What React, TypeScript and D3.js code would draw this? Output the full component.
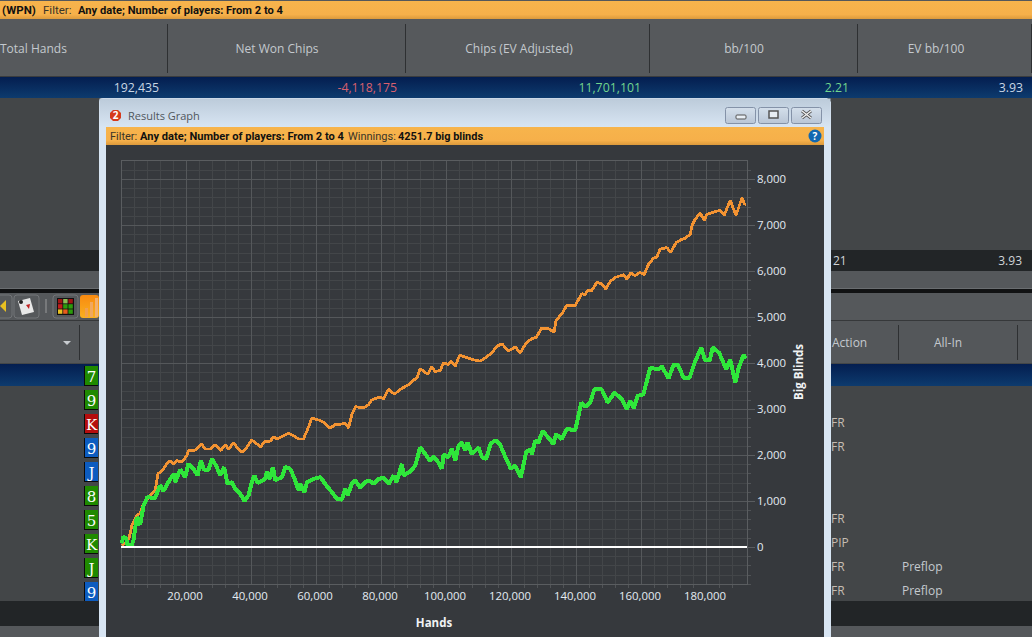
import * as React from "react";
import * as d3 from "d3";

// hands played, big blinds won
const allInHands = [300, 900, 1750, 2150, 3400, 4000, 5000, 6050, 7100, 8300, 10500, 12200, 13200, 15300, 16500, 16800, 18400, 19900, 20900, 22500, 23700, 24700, 25700, 27100, 28100, 29400, 30700, 31900, 32900, 34300, 35300, 36800, 38200, 39400, 40400, 41200, 42200, 44500, 45000, 45900, 46900, 47600, 49700, 50700, 52200, 53600, 54800, 55300, 56600, 57400, 59400, 61500, 63300, 65000, 66600, 68100, 69200, 69900, 71200, 72200, 73800, 75300, 76400, 77900, 79400, 81000, 82500, 84100, 84900, 86600, 87100, 89100, 90700, 92200, 93800, 95300, 96300, 97800, 98900, 99400, 100900, 101900, 103000, 104000, 105000, 106100, 106800, 108100, 110200, 111200, 112500, 113900, 115300, 116800, 118900, 120100, 121400, 123200, 124800, 126100, 126600, 127600, 128600, 129900, 131700, 133200, 134000, 135800, 137300, 139900, 140900, 141800, 143000, 144500, 145800, 148100, 149900, 152000, 154300, 155800, 156800, 157900, 159100, 160900, 163000, 165600, 166600, 168600, 170200, 171400, 173300, 175100, 176800, 178700, 179900, 181300, 182200, 184200, 186400, 187600, 189200, 190200, 191700, 192435];
const allInWon = [80, 220, 190, 40, 30, 150, 650, 480, 900, 1090, 1050, 1340, 1215, 1480, 1590, 1410, 1685, 1520, 1805, 1700, 1555, 1880, 1680, 1680, 1915, 1770, 1555, 1735, 1375, 1410, 1265, 1160, 995, 1125, 1410, 1555, 1390, 1480, 1630, 1480, 1735, 1450, 1520, 1735, 1700, 1480, 1230, 1375, 1195, 1410, 1480, 1520, 1340, 1195, 1050, 1030, 1265, 1125, 1375, 1450, 1290, 1410, 1450, 1375, 1480, 1505, 1375, 1555, 1410, 1805, 1555, 1640, 1770, 2165, 2020, 1865, 1965, 1840, 1700, 2010, 1950, 2130, 1880, 2200, 2275, 2095, 2275, 2020, 2165, 1950, 1915, 2240, 2325, 2225, 1880, 1700, 1770, 1520, 2060, 2130, 2020, 2310, 2270, 2525, 2370, 2240, 2455, 2345, 2565, 2540, 2850, 3140, 3045, 3140, 3425, 3425, 3140, 3355, 3210, 2995, 3175, 3015, 3285, 3320, 3895, 3860, 3930, 3665, 3965, 3965, 3680, 3680, 4040, 4325, 4055, 4055, 4340, 4220, 3860, 4075, 3570, 3895, 4170, 4100];

const evHands = [400, 1950, 2650, 3500, 5000, 6050, 7100, 8600, 10700, 11500, 12700, 14300, 15300, 16300, 17300, 18900, 20400, 20900, 22500, 23500, 25000, 26000, 27600, 29100, 30900, 32200, 33200, 34800, 36300, 37500, 38900, 40400, 42000, 43000, 44500, 46100, 47100, 48100, 50200, 51700, 53200, 54800, 56300, 57400, 58900, 61000, 62500, 64500, 66100, 67600, 69200, 70200, 71200, 72300, 74800, 76300, 77300, 79900, 80900, 82500, 84300, 86100, 88600, 90200, 91200, 92200, 94500, 95800, 96800, 98400, 99400, 100900, 101700, 103000, 104400, 106600, 109200, 110700, 112300, 114300, 115800, 117400, 119400, 121500, 123000, 124800, 126550, 127900, 129600, 131700, 133400, 134000, 135800, 137300, 139900, 141900, 143000, 143700, 145000, 146600, 148100, 149300, 150700, 152200, 154800, 155800, 157000, 158400, 159900, 161100, 162500, 164000, 165000, 166000, 168100, 169300, 171000, 172700, 173700, 175300, 175800, 176800, 178400, 179600, 180400, 182500, 184500, 185800, 187600, 189400, 191200, 192000, 192435];
const evWon = [40, 115, 190, 475, 690, 725, 940, 1080, 1225, 1590, 1650, 1810, 1880, 1810, 1880, 1845, 1990, 2095, 2095, 2130, 2240, 2130, 2130, 2220, 2095, 2225, 2130, 2260, 2130, 2060, 2170, 2325, 2240, 2170, 2300, 2300, 2400, 2350, 2420, 2470, 2420, 2350, 2350, 2530, 2800, 2760, 2710, 2585, 2660, 2670, 2685, 2585, 2890, 3050, 3020, 3095, 3195, 3265, 3215, 3430, 3320, 3430, 3525, 3630, 3670, 3880, 3755, 3915, 3815, 3840, 4005, 3970, 4040, 3935, 4170, 4115, 4060, 4040, 4115, 4220, 4365, 4415, 4260, 4350, 4220, 4435, 4530, 4555, 4760, 4745, 4675, 4925, 5070, 5250, 5250, 5505, 5490, 5575, 5575, 5755, 5720, 5610, 5775, 5860, 5920, 5825, 5955, 5900, 5970, 5920, 6150, 6280, 6295, 6475, 6510, 6405, 6620, 6690, 6705, 6800, 6980, 7125, 7255, 7100, 7230, 7280, 7320, 7215, 7535, 7210, 7590, 7460, 7450];

const handTicks = [20000, 40000, 60000, 80000, 100000, 120000, 140000, 160000, 180000];
const handMinorTicks = d3.range(4000, 192000, 4000).filter(v => v % 20000 !== 0);
const blindTicks = [0, 1000, 2000, 3000, 4000, 5000, 6000, 7000, 8000];
const blindMinorTicks = d3.range(-800, 8400, 200).filter(v => v % 1000 !== 0);

const cardRanks = ["7", "9", "K", "9", "J", "8", "5", "K", "J", "9"];
const cardSuits = ["g", "g", "r", "b", "b", "g", "g", "g", "g", "b"];
const actionRows = ["", "", "FR", "FR", "", "", "FR", "PIP", "FR", "FR"];
const allInRows = ["", "", "", "", "", "", "", "", "Preflop", "Preflop"];

const suitFill: Record<string, string> = { g: "#1f8a00", r: "#b50d0d", b: "#0d5cc0" };
const uiFont = "'Open Sans', 'Noto Sans', sans-serif";
const barFont = "Roboto, 'Open Sans', sans-serif";

const plot = { left: 121, right: 747, top: 160, bottom: 584 };

export default function App() {
  const chartRef = React.useRef<SVGGElement>(null);

  const x = d3.scaleLinear().domain([0, 20000]).range([120.5, 185.5]);
  const y = d3.scaleLinear().domain([0, 1000]).range([547, 501]);
  const rowY = d3.scaleLinear().domain([0, 1]).range([376, 400]);

  React.useEffect(() => {
    const g = d3.select(chartRef.current);
    g.selectAll("*").remove();
    const w = plot.right - plot.left;
    const h = plot.bottom - plot.top;

    const styleGrid = (sel: any, color: string) => {
      sel.select(".domain").remove();
      sel.selectAll("line").attr("stroke", color).attr("shape-rendering", "crispEdges");
      sel.selectAll("text").remove();
    };

    // minor grid
    g.append("g")
      .attr("transform", `translate(0,${plot.bottom})`)
      .call(d3.axisBottom(x).tickValues(handMinorTicks).tickSizeInner(-h).tickSizeOuter(0))
      .call(styleGrid, "#434649");
    g.append("g")
      .attr("transform", `translate(${plot.left},0)`)
      .call(d3.axisLeft(y).tickValues(blindMinorTicks).tickSizeInner(-w).tickSizeOuter(0))
      .call(styleGrid, "#434649");

    // minor tick marks outside the frame
    g.append("g")
      .attr("transform", `translate(0,${plot.bottom})`)
      .call(d3.axisBottom(x).tickValues(handMinorTicks).tickSize(4))
      .call(styleGrid, "#505356");
    g.append("g")
      .attr("transform", `translate(${plot.right},0)`)
      .call(d3.axisRight(y).tickValues(blindMinorTicks).tickSize(4))
      .call(styleGrid, "#505356");

    // major grid
    g.append("g")
      .attr("transform", `translate(0,${plot.bottom})`)
      .call(d3.axisBottom(x).tickValues(handTicks).tickSizeInner(-h).tickSizeOuter(0))
      .call(styleGrid, "#55585b");
    g.append("g")
      .attr("transform", `translate(${plot.left},0)`)
      .call(d3.axisLeft(y).tickValues(blindTicks).tickSizeInner(-w).tickSizeOuter(0))
      .call(styleGrid, "#55585b");

    g.append("rect")
      .attr("x", plot.left + 0.5).attr("y", plot.top + 0.5)
      .attr("width", w).attr("height", h)
      .attr("fill", "none").attr("stroke", "#5a5d60").attr("shape-rendering", "crispEdges");

    // tick labels
    const yAxis = g.append("g")
      .attr("transform", `translate(${plot.right},0)`)
      .call(d3.axisRight(y).tickValues(blindTicks).tickSize(8).tickPadding(2).tickFormat(d3.format(",") as any));
    yAxis.select(".domain").remove();
    yAxis.selectAll("line").attr("stroke", "#5a5d60").attr("shape-rendering", "crispEdges");
    yAxis.selectAll("text").attr("fill", "#e4ebf2").style("font", `11.4px ${uiFont}`);

    const xAxis = g.append("g")
      .attr("transform", `translate(-1,${plot.bottom})`)
      .call(d3.axisBottom(x).tickValues(handTicks).tickSize(0).tickPadding(8).tickFormat(d3.format(",") as any));
    xAxis.select(".domain").remove();
    xAxis.selectAll("text").attr("fill", "#e4ebf2").style("font", `11.4px ${uiFont}`);

    const line = d3.line<number>().x(d => x(d)).curve(d3.curveLinear);

    g.append("path")
      .attr("d", line.y((_, i) => y(evWon[i]))(evHands))
      .attr("fill", "none").attr("stroke", "#f39332").attr("stroke-width", 2.8)
      .attr("stroke-linejoin", "bevel").attr("shape-rendering", "crispEdges");
    g.append("path")
      .attr("d", line.y((_, i) => y(allInWon[i]))(allInHands))
      .attr("fill", "none").attr("stroke", "#2fe63a").attr("stroke-width", 4)
      .attr("stroke-linejoin", "bevel").attr("shape-rendering", "crispEdges");

    // zero line
    g.append("line")
      .attr("x1", plot.left).attr("x2", plot.right)
      .attr("y1", y(0)).attr("y2", y(0))
      .attr("stroke", "#ffffff").attr("stroke-width", 2);
  }, []);

  const hdr = { fontFamily: uiFont, fontSize: 12, fill: "#c4c9ce" };

  return (
    <svg width={1032} height={637} style={{ position: "absolute", left: 0, top: 0 }}>
      <defs>
        <linearGradient id="bar" x1="0" y1="0" x2="0" y2="1">
          <stop offset="0" stopColor="#f7b44c" />
          <stop offset="0.75" stopColor="#f6b04a" />
          <stop offset="1" stopColor="#dc9a3c" />
        </linearGradient>
        <linearGradient id="sel" x1="0" y1="0" x2="0" y2="1">
          <stop offset="0" stopColor="#041e50" />
          <stop offset="1" stopColor="#0d3b6e" />
        </linearGradient>
        <linearGradient id="title" x1="0" y1="0" x2="0" y2="1">
          <stop offset="0" stopColor="#bccbda" />
          <stop offset="1" stopColor="#d9e6f4" />
        </linearGradient>
        <linearGradient id="btn" x1="0" y1="0" x2="0" y2="1">
          <stop offset="0" stopColor="#d4dfeb" />
          <stop offset="1" stopColor="#b9c6d6" />
        </linearGradient>
        <linearGradient id="hot" x1="0" y1="0" x2="0" y2="1">
          <stop offset="0" stopColor="#f98a10" />
          <stop offset="1" stopColor="#f9b020" />
        </linearGradient>
      </defs>

      {/* application behind the graph window */}
      <rect width={1032} height={637} fill="#434648" />
      <rect width={1032} height={2} fill="#55585b" />
      <rect y={1} width={1032} height={18} fill="url(#bar)" />
      <text x={2} y={14} fontFamily={barFont} fontSize={11.5} fontWeight={700} fill="#111">(WPN)</text>
      <text x={43} y={14} fontFamily={barFont} fontSize={11.5} fill="#3a3428">Filter:</text>
      <text x={78} y={14} fontFamily={barFont} fontSize={11.5} fontWeight={700} fill="#111" textLength={205} lengthAdjust="spacingAndGlyphs">Any date; Number of players: From 2 to 4</text>

      <rect y={19} width={1032} height={57} fill="#56595c" />
      <rect y={76} width={1032} height={1} fill="#3a3c3e" />
      {[167, 405, 649, 857, 1031].map(v => (
        <rect key={v} x={v} y={24} width={1} height={49} fill="#2e3032" />
      ))}
      <text x={0} y={53} {...hdr}>Total Hands</text>
      <text x={277} y={53} textAnchor="middle" {...hdr}>Net Won Chips</text>
      <text x={519} y={53} textAnchor="middle" {...hdr}>Chips (EV Adjusted)</text>
      <text x={744} y={53} textAnchor="middle" {...hdr}>bb/100</text>
      <text x={936} y={53} textAnchor="middle" {...hdr}>EV bb/100</text>

      <rect y={77} width={1032} height={21} fill="url(#sel)" />
      <g fontFamily={uiFont} fontSize={12.3} textAnchor="end">
        <text x={159} y={92} fill="#c9d6e4">192,435</text>
        <text x={397} y={92} fill="#d9606e">-4,118,175</text>
        <text x={641} y={92} fill="#72d68e">11,701,101</text>
        <text x={849} y={92} fill="#72d68e">2.21</text>
        <text x={1023} y={92} fill="#c9d6e4">3.93</text>
      </g>

      <rect y={250} width={1032} height={21} fill="#222527" />
      <text x={833} y={265} {...hdr} fill="#d0d4d8">21</text>
      <text x={1022} y={265} textAnchor="end" {...hdr} fill="#d0d4d8">3.93</text>
      <rect y={271} width={1032} height={17} fill="#55585b" />
      <rect y={288} width={1032} height={1} fill="#6a6d70" />
      <rect y={289} width={1032} height={4} fill="#111213" />
      <rect y={293} width={1032} height={27} fill="#55585b" />
      <rect y={320} width={1032} height={1} fill="#36383a" />
      <rect y={321} width={1032} height={42} fill="#54575a" />

      {/* toolbar */}
      <rect x={-4} y={295} width={16} height={23} rx={3} fill="#55585b" stroke="#727578" />
      <path d="M0,306 L6,300 L6,312 Z" fill="#e8c020" />
      <rect x={14} y={295} width={25} height={23} rx={3} fill="#55585b" stroke="#727578" />
      <path d="M18,301 L30,298 L34,312 L22,315 Z" fill="#e8e8e8" />
      <path d="M26,305 L30,304 L29,309 Z" fill="#c02020" />
      <circle cx={21} cy={302} r={2} fill="#222" />
      <rect x={45} y={299} width={2} height={14} fill="#77797b" />
      <rect x={53} y={295} width={25} height={23} rx={3} fill="#55585b" stroke="#727578" />
      <rect x={57} y={298} width={17} height={17} fill="#111" />
      {["#a01414", "#8cbc54", "#a01414", "#c01c1c", "#2c9c0c", "#2c9c0c", "#e8c020", "#e85c1c", "#2c9c0c"].map((c, i) => (
        <rect key={i} x={58 + (i % 3) * 5.2} y={299 + Math.floor(i / 3) * 5.2} width={4.4} height={4.4} fill={c} />
      ))}
      <rect x={80} y={295} width={19} height={23} rx={3} fill="url(#hot)" />
      <rect x={85} y={308} width={3} height={9} fill="#f0a050" />
      <rect x={90} y={302} width={3} height={15} fill="#f0a860" />
      <rect x={95} y={298} width={3} height={19} fill="#f0b070" />

      {/* hand list */}
      <rect x={79} y={325} width={1} height={35} fill="#2e3032" />
      <path d="M63,341 L71,341 L67,345 Z" fill="#c8ccd0" />
      <text x={832} y={347} {...hdr}>Action</text>
      <text x={948} y={347} textAnchor="middle" {...hdr}>All-In</text>
      <rect x={898} y={325} width={1} height={35} fill="#2e3032" />
      <rect x={1017} y={325} width={1} height={35} fill="#2e3032" />
      <rect y={364} width={1032} height={22} fill="url(#sel)" />
      {cardRanks.map((r, i) => (
        <g key={i}>
          <rect x={84} y={rowY(i) - 10} width={14} height={20} fill="#0a0a0a" />
          <rect x={85} y={rowY(i) - 10} width={13} height={19} fill={suitFill[cardSuits[i]]} />
          <text x={91.5} y={rowY(i) + 5.5} textAnchor="middle" fontFamily="'DejaVu Serif', serif" fontSize={15} fill="#fff">{r}</text>
        </g>
      ))}
      {actionRows.map((a, i) => (
        <text key={i} x={831} y={rowY(i) + 3} {...hdr} fill="#c6bdb2">{a}</text>
      ))}
      {allInRows.map((a, i) => (
        <text key={i} x={902} y={rowY(i) + 3} {...hdr}>{a}</text>
      ))}
      <rect y={601} width={1032} height={25} fill="#222527" />
      <rect y={626} width={1032} height={11} fill="#55585b" />

      {/* graph window */}
      <path d="M99,637 V102 Q99,98 103,98 H827 L831,102 V637 Z" fill="#d8e5f3" />
      <rect x={99.5} y={98.5} width={731} height={30} fill="url(#title)" />
      <rect x={106} y={127} width={718} height={510} fill="#36393d" />
      <rect x={106} y={127} width={718} height={18} fill="url(#bar)" />
      <path d="M113,110 H118 L121,113 V118 L118,121 H113 L110,118 V113 Z" fill="#d63a1c" />
      <text x={115.5} y={119} textAnchor="middle" fontFamily={uiFont} fontWeight={700} fontSize={10} fill="#fff">2</text>
      <text x={128} y={120} fontFamily={uiFont} fontSize={11} fill="#50565c">Results Graph</text>
      {[725, 758, 791].map(v => (
        <rect key={v} x={v + 0.5} y={107.5} width={30} height={16} rx={2} fill="url(#btn)" stroke="#8492a8" />
      ))}
      <rect x={736} y={115} width={10} height={4} rx={1} fill="#e8eef4" stroke="#555" />
      <rect x={769} y={111} width={9} height={7} fill="#e8eef4" stroke="#555" strokeWidth={1.5} />
      <path d="M802,111 L811,118 M811,111 L802,118" stroke="#555" strokeWidth={3} />
      <path d="M802,111 L811,118 M811,111 L802,118" stroke="#f0f0f0" strokeWidth={1.4} />
      <text x={110} y={140} fontFamily={barFont} fontSize={11} fill="#3a3428">Filter:</text>
      <text x={140} y={140} fontFamily={barFont} fontSize={11} fontWeight={700} fill="#111" textLength={204} lengthAdjust="spacingAndGlyphs">Any date; Number of players: From 2 to 4</text>
      <text x={348} y={140} fontFamily={barFont} fontSize={11} fill="#3a3428">Winnings:</text>
      <text x={398} y={140} fontFamily={barFont} fontSize={11} fontWeight={700} fill="#111" textLength={85} lengthAdjust="spacingAndGlyphs">4251.7 big blinds</text>
      <circle cx={815} cy={136} r={6.5} fill="#1268b0" />
      <text x={815} y={140} textAnchor="middle" fontFamily={uiFont} fontWeight={700} fontSize={10} fill="#fff">?</text>

      <g ref={chartRef} />

      <text x={434} y={627} textAnchor="middle" fontFamily={uiFont} fontWeight={700} fontSize={11.5} fill="#f0f2f4">Hands</text>
      <text transform="translate(803,372) rotate(-90)" textAnchor="middle" fontFamily={uiFont} fontWeight={700} fontSize={11.5} fill="#f0f2f4">Big Blinds</text>
    </svg>
  );
}
